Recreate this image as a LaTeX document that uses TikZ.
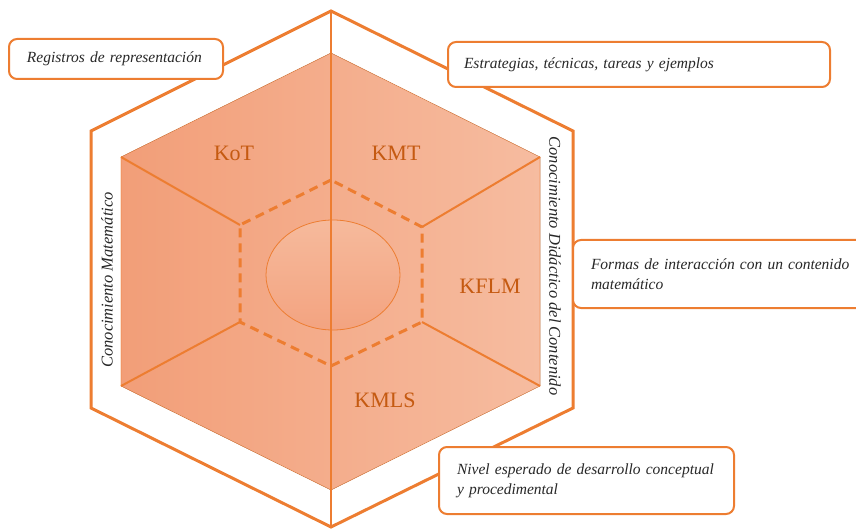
\documentclass[tikz,border=0pt]{standalone}
\usepackage{fontspec}
\setmainfont{Liberation Serif}
\usetikzlibrary{calc,shapes.geometric}
\definecolor{orng}{RGB}{237,125,49}
\definecolor{lbl}{RGB}{197,90,17}
\definecolor{txt}{RGB}{40,40,40}
\definecolor{fillL}{RGB}{242,158,120}
\definecolor{fillR}{RGB}{246,188,160}
\definecolor{ellT}{RGB}{246,186,156}
\definecolor{ellB}{RGB}{243,163,128}
\tikzset{
  outerline/.style={draw=orng,line width=3pt,line join=miter},
  spoke/.style={draw=orng,line width=2pt},
  dashhex/.style={draw=orng,line width=3pt,dash pattern=on 9pt off 6pt},
  infobox/.style={draw=orng,line width=2pt,fill=white,rounded corners=8pt,text=txt,font=\fontsize{15.5}{20}\selectfont\itshape,align=left,anchor=north west},
  klabel/.style={text=lbl,font=\fontsize{22}{24}\selectfont},
  sidetext/.style={text=txt,font=\fontsize{16.5}{18}\selectfont\itshape},
}
\begin{document}
\begin{tikzpicture}[x=1pt,y=-1pt]
\useasboundingbox (0,0) rectangle (856,529);
% outer hexagon
\coordinate (OT) at (331,11);
\coordinate (OUL) at (91,131);
\coordinate (OLL) at (91,408);
\coordinate (OB) at (331,527);
\coordinate (OLR) at (573,408);
\coordinate (OUR) at (573,131);
% inner filled hexagon
\coordinate (IT) at (331,53);
\coordinate (IUL) at (121,157);
\coordinate (ILL) at (121,386);
\coordinate (IB) at (331,490);
\coordinate (ILR) at (540,386);
\coordinate (IUR) at (540,157);
% dashed hexagon
\coordinate (DT) at (331,180);
\coordinate (DUL) at (240,225);
\coordinate (DLL) at (240,322);
\coordinate (DB) at (331,366);
\coordinate (DLR) at (422,322);
\coordinate (DUR) at (422,227);

\fill[left color=fillL,right color=fillR] (IT) -- (IUL) -- (ILL) -- (IB) -- (ILR) -- (IUR) -- cycle;
\draw[orng,line width=0.6pt,opacity=0.6] (IT) -- (IUL) -- (ILL) -- (IB) -- (ILR) -- (IUR) -- cycle;
\draw[outerline] (OT) -- (OUL) -- (OLL) -- (OB) -- (OLR) -- (OUR) -- cycle;

% spokes
\draw[spoke] (IUL) -- (DUL);
\draw[spoke] (IUR) -- (DUR);
\draw[spoke] (ILL) -- (DLL);
\draw[spoke] (ILR) -- (DLR);
\draw[dashhex] (DT) -- (DUL) -- (DLL) -- (DB) -- (DLR) -- (DUR) -- cycle;

% ellipse
\node[draw=orng,line width=0.8pt,top color=ellT,bottom color=ellB,shape=ellipse,minimum width=134pt,minimum height=110pt,inner sep=0pt] (core) at (333,275) {};
% vertical axis
\draw[spoke] (OT) -- (OB);

% labels
\node[klabel] (kot) at (234,153) {KoT};
\node[klabel] (kmt) at (396,153) {KMT};
\node[klabel] (kflm) at (490,286) {KFLM};
\node[klabel] (kmls) at (385,400) {KMLS};

% side texts
\node[sidetext,rotate=90] (cm) at (107,280) {Conocimiento Matemático};
\node[sidetext,rotate=-90] (cdc) at (555,266) {Conocimiento Didáctico del Contenido};

% boxes
\node[infobox,minimum width=214pt,minimum height=40pt,text width=178pt,inner xsep=18pt,inner ysep=0pt] (b1) at (8,38) {Registros de representación};
\node[infobox,minimum width=382pt,minimum height=45pt,text width=350pt,inner xsep=16pt,inner ysep=0pt] (b2) at (447,41) {Estrategias, técnicas, tareas y ejemplos};
\node[infobox,minimum width=300pt,minimum height=68pt,text width=264pt,inner xsep=18pt,inner ysep=0pt] (b3) at (572,239) {Formas de interacción con un contenido\\matemático};
\node[infobox,minimum width=295pt,minimum height=67pt,text width=259pt,inner xsep=18pt,inner ysep=0pt] (b4) at (438,446) {Nivel esperado de desarrollo conceptual\\y procedimental};
\end{tikzpicture}
\end{document}
